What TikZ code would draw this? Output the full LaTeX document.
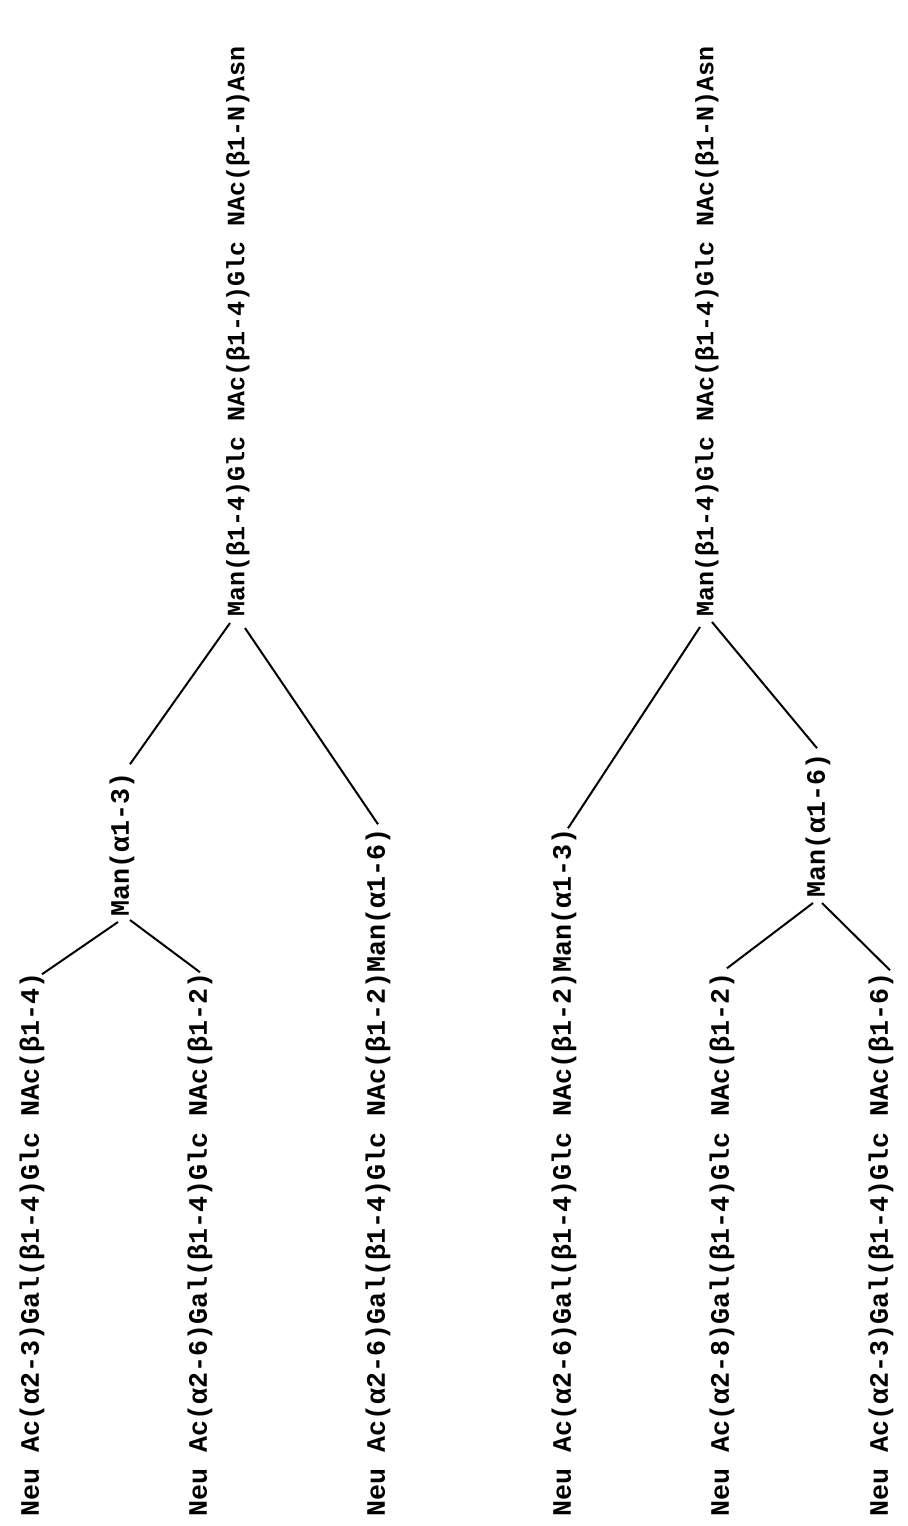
\documentclass[tikz,border=0pt]{standalone}
\usepackage{fontspec}
\newfontfamily\tw{Liberation Mono}
\begin{document}
\begin{tikzpicture}[x=0.5pt,y=-0.5pt,
  lab/.style={rotate=90,anchor=west,inner sep=0pt,font=\tw\bfseries\fontsize{13.33}{14}\selectfont},
  rootlab/.style={lab,font=\tw\bfseries\fontsize{12.5}{14}\selectfont},
  edge/.style={line width=1pt}]
\useasboundingbox (0,0) rectangle (907,1526);
\fill[white] (0,0) rectangle (907,1526);
% leaves
\node[lab] (L1) at (32,1517) {Neu Ac(α2-3)Gal(β1-4)Glc NAc(β1-4)};
\node[lab] (L2) at (200,1517) {Neu Ac(α2-6)Gal(β1-4)Glc NAc(β1-2)};
\node[lab] (L3) at (378,1517) {Neu Ac(α2-6)Gal(β1-4)Glc NAc(β1-2)Man(α1-6)};
\node[lab] (L4) at (564,1517) {Neu Ac(α2-6)Gal(β1-4)Glc NAc(β1-2)Man(α1-3)};
\node[lab] (L5) at (722,1517) {Neu Ac(α2-8)Gal(β1-4)Glc NAc(β1-2)};
\node[lab] (L6) at (881,1517) {Neu Ac(α2-3)Gal(β1-4)Glc NAc(β1-6)};
% branch points
\node[lab] (A1) at (122,917) {Man(α1-3)};
\node[lab] (A2) at (818,898) {Man(α1-6)};
% roots
\node[rootlab] (R1) at (238,617) {Man(β1-4)Glc NAc(β1-4)Glc NAc(β1-N)Asn};
\node[rootlab] (R2) at (707,617) {Man(β1-4)Glc NAc(β1-4)Glc NAc(β1-N)Asn};
% connectors, left tree
\draw[edge] ([shift={(-8,6)}]R1.west) -- ([shift={(8,-8)}]A1.east);
\draw[edge] ([shift={(7,11)}]R1.west) -- ([shift={(0,-4)}]L3.east);
\draw[edge] ([shift={(-4,5)}]A1.west) -- ([shift={(10,2)}]L1.east);
\draw[edge] ([shift={(8,3)}]A1.west) -- ([shift={(0,0)}]L2.east);
% connectors, right tree
\draw[edge] ([shift={(-7,10)}]R2.west) -- ([shift={(4,0)}]L4.east);
\draw[edge] ([shift={(5,5)}]R2.west) -- ([shift={(-1,-5)}]A2.east);
\draw[edge] ([shift={(-5,5)}]A2.west) -- ([shift={(5,-4)}]L5.east);
\draw[edge] ([shift={(4,5)}]A2.west) -- ([shift={(9,-2)}]L6.east);
\end{tikzpicture}
\end{document}
